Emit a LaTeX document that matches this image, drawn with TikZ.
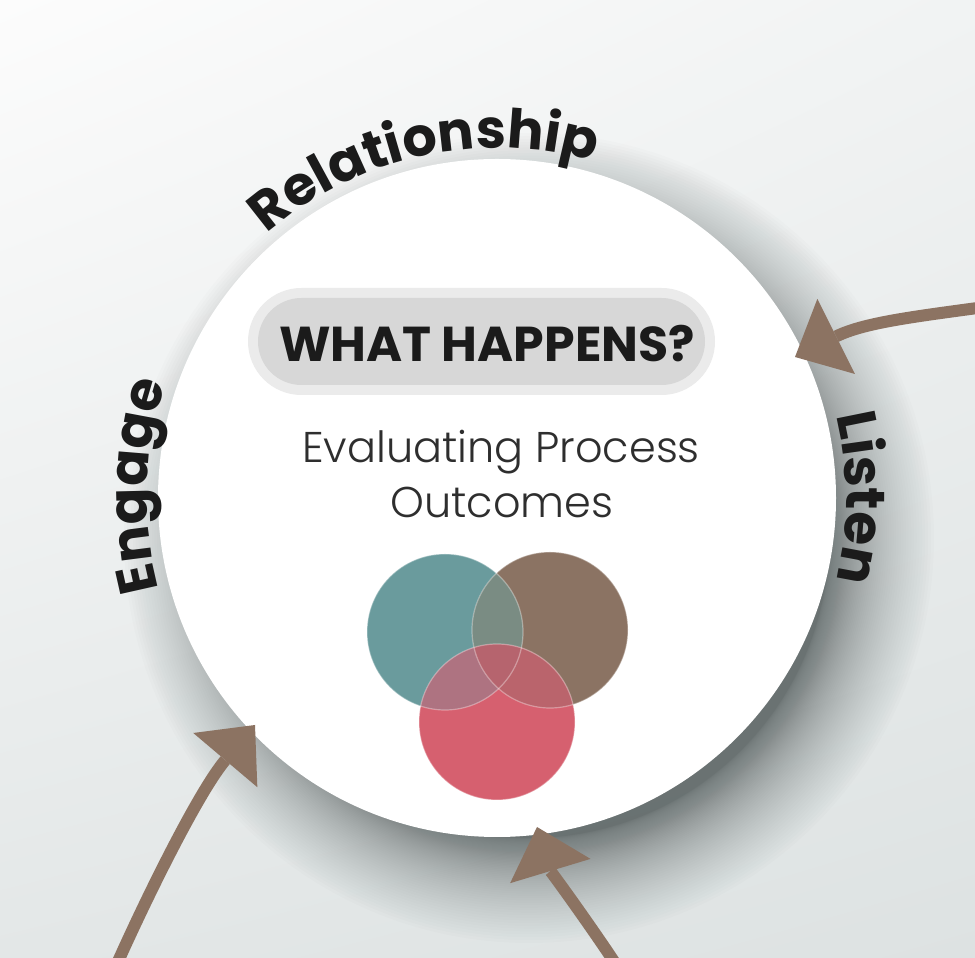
\documentclass[tikz,border=0pt]{standalone}
\usepackage{fontspec}
\usetikzlibrary{arrows.meta,decorations.text,shadings}
\newfontfamily\heavyfont{Poppins Bold}
\newfontfamily\lightfont{Poppins Light}
\definecolor{bgA}{HTML}{FCFCFC}
\definecolor{bgB}{HTML}{F1F3F3}
\definecolor{bgC}{HTML}{E3E7E7}
\definecolor{bgD}{HTML}{DDE2E2}
\definecolor{shadowc}{HTML}{2E3838}
\definecolor{pillout}{HTML}{EBEBEB}
\definecolor{pillin}{HTML}{D7D7D7}
\definecolor{arrowc}{HTML}{8C7362}
\definecolor{vteal}{HTML}{6A9B9D}
\definecolor{vbrown}{HTML}{8B7363}
\definecolor{vpink}{HTML}{D6606F}
\definecolor{vtb}{HTML}{7A8C83}
\definecolor{vtp}{HTML}{AE7381}
\definecolor{vbp}{HTML}{BA646C}
\definecolor{vtbp}{HTML}{B6646E}
\definecolor{inkc}{HTML}{1B1B1B}
\definecolor{lightink}{HTML}{2E2E2E}
\tikzset{
  flowarrow/.style={draw=arrowc, line width=12pt,
    -{Triangle[length=46pt,width=84pt,line width=0pt]}},
  vennedge/.style={draw=white, draw opacity=0.35, line width=1.2pt}
}
\begin{document}
\begin{tikzpicture}[x=1pt,y=1pt]
\useasboundingbox (0,0) rectangle (975,958);
\shade[upper left=bgA, upper right=bgB, lower left=bgC, lower right=bgD] (0,0) rectangle (975,958);
% soft shadow
\foreach \i in {0,...,70} {
  \pgfmathsetmacro{\rr}{300+105*(\i/70)*(\i/70)}
  \fill[shadowc, opacity=0.01] (529,420) circle[radius=\rr];
}
\node[circle, fill=white, minimum size=678pt, inner sep=0pt] (main) at (497,460) {};
% pill
\node[rounded corners=53.5pt, fill=pillout, minimum width=467pt, minimum height=107pt, inner sep=0pt] (pillo) at (481.5,616.5) {};
\node[rounded corners=43.5pt, fill=pillin, minimum width=447pt, minimum height=87pt, inner sep=0pt] (pilli) at (481.5,616.5) {};
\node[anchor=base, text=inkc, inner sep=0pt] (title) at (487,596) {\heavyfont\fontsize{49}{49}\selectfont WHAT HAPPENS?};
\node[anchor=base, text=lightink, inner sep=0pt] (sub1) at (501,495) {\lightfont\fontsize{43}{43}\selectfont Evaluating Process};
\node[anchor=base, text=lightink, inner sep=0pt] (sub2) at (502,440) {\lightfont\fontsize{43}{43}\selectfont Outcomes};
% venn
\fill[vteal] (445,326) circle[radius=78];
\fill[vbrown] (550,328) circle[radius=78];
\fill[vpink] (497,236) circle[radius=78];
\begin{scope}
  \clip (445,326) circle[radius=78];
  \fill[vtb] (550,328) circle[radius=78];
  \fill[vtp] (497,236) circle[radius=78];
\end{scope}
\begin{scope}
  \clip (550,328) circle[radius=78];
  \fill[vbp] (497,236) circle[radius=78];
\end{scope}
\begin{scope}
  \clip (445,326) circle[radius=78];
  \clip (550,328) circle[radius=78];
  \fill[vtbp] (497,236) circle[radius=78];
\end{scope}
\path[vennedge] (445,326) circle[radius=78];
\path[vennedge] (550,328) circle[radius=78];
\path[vennedge] (497,236) circle[radius=78];
% ring labels
\path[decorate, decoration={text along path, text align=center, text color=inkc,
  text={|\heavyfont\fontsize{54}{54}\selectfont|Relationship}}]
  ([shift={(135:350)}]497,460) arc[start angle=135, end angle=70, radius=350];
\path[decorate, decoration={text along path, text align=center, text color=inkc,
  text={|\heavyfont\fontsize{54}{54}\selectfont|Engage}}]
  ([shift={(218:350)}]497,460) arc[start angle=218, end angle=138, radius=350];
\path[decorate, decoration={text along path, text align=center, text color=inkc,
  text={|\heavyfont\fontsize{55}{55}\selectfont|Listen}}]
  ([shift={(40:349)}]497,460) arc[start angle=40, end angle=-40, radius=349];
% arrows
\coordinate (s1) at (992,652);
\coordinate (t1) at (795,601);
\coordinate (s2) at (116,-8);
\coordinate (t2) at (255,233);
\coordinate (s3) at (617,-8);
\coordinate (t3) at (537,131);
\draw[flowarrow] (s1) .. controls (920,642) and (865,636) .. (t1);
\draw[flowarrow] (s2) .. controls (150,68) and (200,168) .. (t2);
\draw[flowarrow] (s3) .. controls (590,33) and (550,88) .. (t3);
\end{tikzpicture}
\end{document}
